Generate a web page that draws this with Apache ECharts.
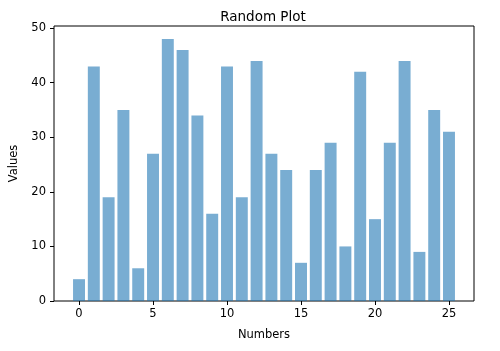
<!DOCTYPE html>
<html>
<head>
<meta charset="utf-8">
<script src="https://cdn.jsdelivr.net/npm/echarts@6/dist/echarts.min.js"></script>
<style>
  html, body { margin: 0; padding: 0; background: #fff; }
  #chart { width: 500px; height: 351px; }
</style>
</head>
<body>
<div id="chart"></div>
<script>
const numbers = [0, 1, 2, 3, 4, 5, 6, 7, 8, 9, 10, 11, 12, 13, 14, 15, 16, 17, 18, 19, 20, 21, 22, 23, 24, 25];
const values = [4, 43, 19, 35, 6, 27, 48, 46, 34, 16, 43, 19, 44, 27, 24, 7, 24, 29, 10, 42, 15, 29, 44, 9, 35, 31];
const xTicks = [0, 5, 10, 15, 20, 25];
const yTicks = [0, 10, 20, 30, 40, 50];

const X_MIN = -1.69;
const X_MAX = 26.69;
const gridLeft = 50;
const gridRight = 26;
const gridWidth = 500 - gridLeft - gridRight;
// matplotlib default bar width is 0.8 data units
const barPx = gridWidth / (X_MAX - X_MIN) * 0.8;

const fontFamily = 'DejaVu Sans';
const chart = echarts.init(document.getElementById('chart'));

const option = {
  animation: false,
  title: {
    text: 'Random Plot',
    left: 258,
    textAlign: 'center',
    top: 5,
    textStyle: {
      fontFamily,
      fontSize: 13.5,
      fontWeight: 'normal',
      color: '#000',
    },
  },
  grid: {
    show: true,
    left: gridLeft,
    right: gridRight,
    top: 26,
    bottom: 50,
    borderColor: '#000',
    borderWidth: 1,
    backgroundColor: '#fff',
  },
  xAxis: {
    type: 'value',
    min: X_MIN,
    max: X_MAX,
    name: 'Numbers',
    nameLocation: 'center',
    nameGap: 28,
    nameTextStyle: { fontFamily, fontSize: 11.5, color: '#000' },
    axisLine: { show: false, onZero: false },
    axisTick: {
      show: true,
      length: 4,
      customValues: xTicks,
      lineStyle: { color: '#000' },
    },
    axisLabel: {
      customValues: xTicks,
      margin: 7,
      fontFamily,
      fontSize: 11.5,
      color: '#000',
    },
    splitLine: { show: false },
  },
  yAxis: {
    type: 'value',
    min: 0,
    max: 50.4,
    name: 'Values',
    nameLocation: 'center',
    nameGap: 34,
    nameTextStyle: { fontFamily, fontSize: 11.5, color: '#000' },
    axisLine: { show: false, onZero: false },
    axisTick: {
      show: true,
      length: 4,
      customValues: yTicks,
      lineStyle: { color: '#000' },
    },
    axisLabel: {
      customValues: yTicks,
      margin: 8,
      fontFamily,
      fontSize: 11.5,
      color: '#000',
    },
    splitLine: { show: false },
  },
  series: [
    {
      type: 'bar',
      data: numbers.map((n, i) => [n, values[i]]),
      barWidth: barPx,
      itemStyle: {
        color: 'rgba(31, 119, 180, 0.6)',
      },
    },
  ],
};

chart.setOption(option);
</script>
</body>
</html>
